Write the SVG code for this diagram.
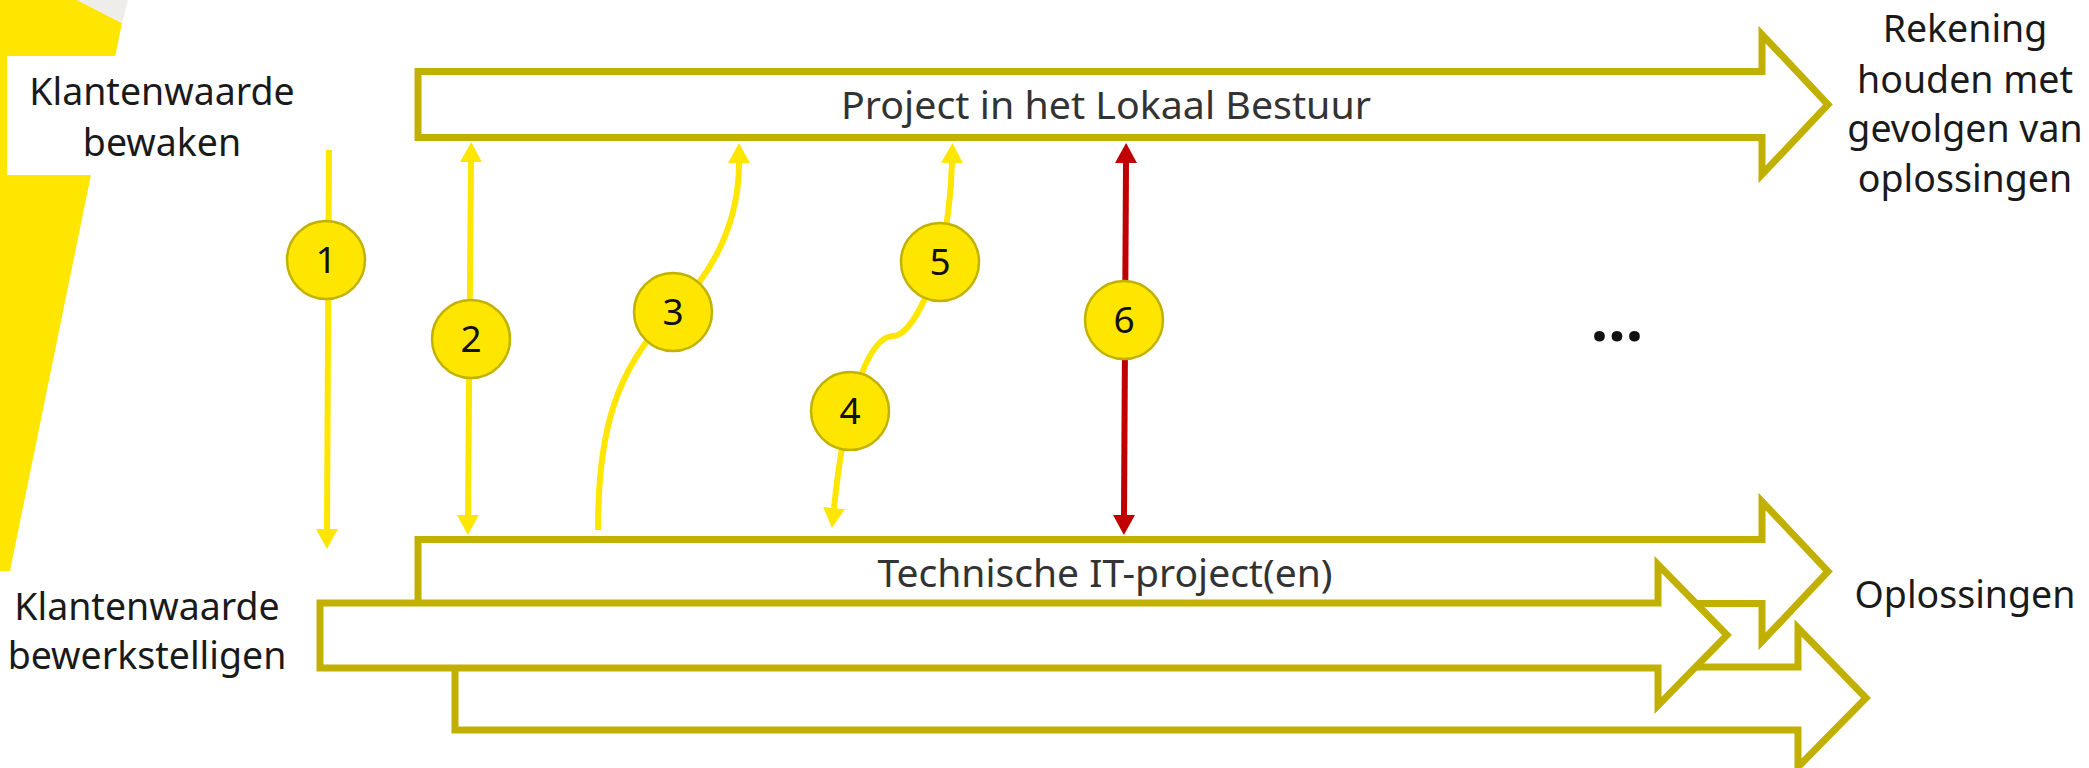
<svg xmlns="http://www.w3.org/2000/svg" width="2089" height="768" viewBox="0 0 2089 768">
<style>
.band{fill:#fff;stroke:#C1B000;stroke-width:7;stroke-linejoin:miter;stroke-miterlimit:10}
.lbl{font-family:"Noto Sans","Open Sans",sans-serif;font-size:37.5px;fill:#1a1a1a;text-anchor:middle}
.inner{font-family:"Noto Sans","Open Sans",sans-serif;font-size:39px;fill:#333;text-anchor:middle}
.num{font-family:"Noto Sans","Open Sans",sans-serif;font-size:37px;fill:#111;text-anchor:middle}
.badge{fill:#FFE600;stroke:#C2B200;stroke-width:2.5}
.cy{fill:none;stroke:#FFE600;stroke-width:6}
.cr{fill:none;stroke:#C00000;stroke-width:6}
</style>
<defs>
<marker id="ay" viewBox="0 0 20 22" markerWidth="20" markerHeight="22" refX="0" refY="11" orient="auto-start-reverse" markerUnits="userSpaceOnUse"><path d="M0,0 L20,11 L0,22 z" fill="#FFE600"/></marker>
<marker id="ar" viewBox="0 0 20 22" markerWidth="20" markerHeight="22" refX="0" refY="11" orient="auto-start-reverse" markerUnits="userSpaceOnUse"><path d="M0,0 L20,11 L0,22 z" fill="#C00000"/></marker>
</defs>
<rect width="2089" height="768" fill="#fff"/>
<g id="deco">
<polygon points="0,0 77,0 122,23 10,571 0,571" fill="#FFE600"/>
<polygon points="77,0 128,0 122,23" fill="#EEEDEA"/>
<rect x="7" y="56" width="220" height="119" fill="#fff"/>
</g>
<g id="labels">
<text class="lbl" x="162" y="105">Klantenwaarde</text>
<text class="lbl" x="162" y="156">bewaken</text>
<text class="lbl" x="147" y="620">Klantenwaarde</text>
<text class="lbl" x="147" y="669">bewerkstelligen</text>
<text class="lbl" x="1965" y="42">Rekening</text>
<text class="lbl" x="1965" y="93">houden met</text>
<text class="lbl" x="1965" y="142">gevolgen van</text>
<text class="lbl" x="1965" y="192">oplossingen</text>
<text class="lbl" x="1965" y="608">Oplossingen</text>
<text x="1617" y="341" style="font-family:'Noto Sans',sans-serif;font-size:62px;font-weight:bold;fill:#111;text-anchor:middle">...</text>
</g>
<g id="project">
<polygon class="band" points="418,71.5 1762,71.5 1762,34.5 1828,104.5 1762,174.5 1762,137.5 418,137.5"/>
<text class="inner" x="1106" y="119" textLength="530" lengthAdjust="spacingAndGlyphs">Project in het Lokaal Bestuur</text>
</g>
<g id="it1">
<polygon class="band" points="418,539.5 1762,539.5 1762,501.5 1828,571.5 1762,641.5 1762,603.5 418,603.5"/>
<text class="inner" x="1105" y="587" textLength="455" lengthAdjust="spacingAndGlyphs">Technische IT-project(en)</text>
</g>
<g id="it3">
<polygon class="band" points="455,667 1798,667 1798,628 1866,698 1798,767 1798,730 455,730"/>
</g>
<g id="it2">
<polygon class="band" points="320,603 1658,603 1658,564.5 1727,635 1658,705.5 1658,668 320,668"/>
</g>
<g id="connectors">
<path class="cy" d="M329,150 L327,529" marker-end="url(#ay)"/>
<path class="cy" d="M471,162 L468,515" marker-start="url(#ay)" marker-end="url(#ay)"/>
<path class="cy" d="M598,530 C598,440 612,370 673,312 C715,272 739,220 739,163" marker-end="url(#ay)"/>
<path class="cy" d="M834,508 C838,470 842,440 850,411 C858,380 872,337 893,336 C910,335 926,300 940,262 C946,232 951,200 952,163" marker-start="url(#ay)" marker-end="url(#ay)"/>
<path class="cr" d="M1126,163 L1124,515" marker-start="url(#ar)" marker-end="url(#ar)"/>
</g>
<g id="n1"><ellipse class="badge" cx="326" cy="260" rx="39" ry="39"/><text class="num" x="326" y="273">1</text></g>
<g id="n2"><ellipse class="badge" cx="471" cy="339" rx="39" ry="39"/><text class="num" x="471" y="352">2</text></g>
<g id="n3"><ellipse class="badge" cx="673" cy="312" rx="39" ry="39"/><text class="num" x="673" y="325">3</text></g>
<g id="n4"><ellipse class="badge" cx="850" cy="411" rx="39" ry="39"/><text class="num" x="850" y="424">4</text></g>
<g id="n5"><ellipse class="badge" cx="940" cy="262" rx="39" ry="39"/><text class="num" x="940" y="275">5</text></g>
<g id="n6"><ellipse class="badge" cx="1124" cy="320" rx="39" ry="39"/><text class="num" x="1124" y="333">6</text></g>
</svg>
